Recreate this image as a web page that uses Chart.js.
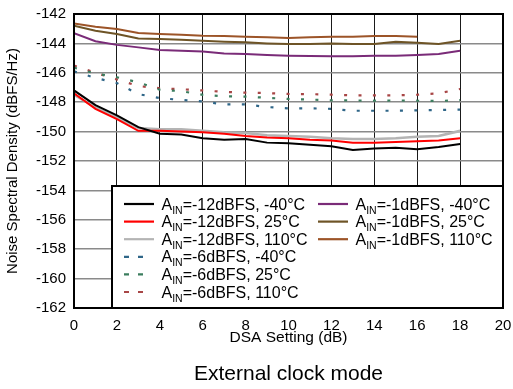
<!DOCTYPE html>
<html>
<head>
<meta charset="utf-8">
<script src="https://cdn.jsdelivr.net/npm/chart.js@4.4.1/dist/chart.umd.min.js"></script>
<style>
    html, body { margin: 0; padding: 0; background: #fff; }
</style>
</head>
<body>
<canvas id="nsdChart" width="513" height="389"></canvas>
<script>
// DSA setting (dB)
const dsa = [0, 1, 2, 3, 4, 5, 6, 7, 8, 9, 10, 11, 12, 13, 14, 15, 16, 17, 18];
const dsaShort = [0, 1, 2, 3, 4, 5, 6, 7, 8, 9, 10, 11, 12, 13, 14, 15, 16];

const xTicks = [0, 2, 4, 6, 8, 10, 12, 14, 16, 18, 20];
const yTicks = [-142, -144, -146, -148, -150, -152, -154, -156, -158, -160, -162];

// AIN = -12 dBFS
const m12_n40 = [-147.2, -148.2, -148.9, -149.7, -150.15, -150.2, -150.45, -150.55, -150.5, -150.75, -150.8, -150.9, -151.0, -151.25, -151.15, -151.1, -151.2, -151.05, -150.85];
const m12_25  = [-147.4, -148.45, -149.15, -149.95, -149.95, -150.0, -150.05, -150.15, -150.3, -150.4, -150.45, -150.55, -150.6, -150.75, -150.75, -150.7, -150.65, -150.6, -150.45];
const m12_110 = [-147.5, -148.35, -149.05, -149.75, -149.85, -149.85, -149.95, -150.05, -150.1, -150.25, -150.3, -150.35, -150.45, -150.5, -150.5, -150.45, -150.35, -150.3, -149.95];

// AIN = -6 dBFS
const m6_n40 = [-145.9, -146.35, -146.7, -147.45, -147.72, -147.85, -147.95, -148.15, -148.15, -148.33, -148.42, -148.42, -148.45, -148.58, -148.58, -148.58, -148.56, -148.53, -148.5];
const m6_25  = [-145.65, -146.05, -146.3, -146.65, -147.15, -147.25, -147.5, -147.6, -147.62, -147.7, -147.78, -147.82, -147.87, -147.88, -147.9, -147.88, -147.9, -147.92, -147.86];
const m6_110 = [-145.5, -146.0, -146.45, -146.9, -147.05, -147.12, -147.2, -147.3, -147.35, -147.38, -147.44, -147.45, -147.49, -147.53, -147.53, -147.53, -147.49, -147.4, -147.1];

// AIN = -1 dBFS
const m1_n40 = [-143.3, -143.85, -144.1, -144.27, -144.45, -144.5, -144.55, -144.68, -144.72, -144.79, -144.84, -144.86, -144.88, -144.88, -144.84, -144.84, -144.79, -144.72, -144.5];
const m1_25  = [-142.8, -143.14, -143.36, -143.66, -143.7, -143.75, -143.82, -143.88, -143.93, -144.0, -144.04, -144.04, -144.0, -144.04, -144.04, -143.88, -143.95, -144.04, -143.82];
const m1_110 = [-142.64, -142.86, -143.02, -143.29, -143.36, -143.41, -143.48, -143.5, -143.54, -143.59, -143.63, -143.59, -143.54, -143.54, -143.5, -143.5, -143.54];

const FONT = "'Liberation Sans', Arial, sans-serif";

function pts(xs, ys) {
    return ys.map((y, i) => ({ x: xs[i], y }));
}

function solid(label, data, color, width) {
    return { label, data: pts(dsa, data), borderColor: color, borderWidth: width || 2, pointRadius: 0, tension: 0, fill: false };
}

function dashed(label, data, color) {
    return { label, data: pts(dsa, data), borderColor: color, borderWidth: 2.2, borderDash: [3, 11.4], pointRadius: 0, tension: 0, fill: false };
}

const datasets = [
    solid('AIN=-12dBFS, -40°C', m12_n40, '#000000'),
    solid('AIN=-12dBFS, 25°C', m12_25, '#ff0000'),
    solid('AIN=-12dBFS, 110°C', m12_110, '#b4b4b4', 2.6),
    dashed('AIN=-6dBFS, -40°C', m6_n40, '#2f6688'),
    dashed('AIN=-6dBFS, 25°C', m6_25, '#3b7d5e'),
    dashed('AIN=-6dBFS, 110°C', m6_110, '#a84646'),
    solid('AIN=-1dBFS, -40°C', m1_n40, '#7a2b78'),
    solid('AIN=-1dBFS, 25°C', m1_25, '#6e5426'),
    { label: 'AIN=-1dBFS, 110°C', data: pts(dsaShort, m1_110), borderColor: '#9c5428', borderWidth: 2, pointRadius: 0, tension: 0, fill: false }
];

// legend box drawn inside the plot + the heavy frame round the plot
const frameAndLegend = {
    id: 'frameAndLegend',
    afterDatasetsDraw(chart) {
        const { ctx, chartArea: a } = chart;
        const x0 = a.left + 38, y0 = a.top + 172, x1 = a.right, y1 = a.bottom;
        ctx.save();
        ctx.fillStyle = '#fff';
        ctx.fillRect(x0, y0, x1 - x0, y1 - y0);

        chart.data.datasets.forEach((ds, i) => {
            const col = i < 6 ? 0 : 1;
            const row = col ? i - 6 : i;
            const lx = x0 + (col ? 206 : 12);
            const ly = y0 + 18 + row * 17.6;

            ctx.strokeStyle = ds.borderColor;
            ctx.lineWidth = 2.2;
            if (ds.borderDash) {
                ctx.setLineDash([5, 9]);
                ctx.beginPath();
                ctx.moveTo(lx, ly); ctx.lineTo(lx + 19, ly);
                ctx.stroke();
                ctx.setLineDash([]);
            } else {
                ctx.beginPath();
                ctx.moveTo(lx, ly); ctx.lineTo(lx + 30, ly);
                ctx.stroke();
            }

            // "A" + subscript "IN" + rest of label
            let tx = lx + 37.5;
            const base = ly + 5.5;
            ctx.fillStyle = '#000';
            ctx.textBaseline = 'alphabetic';
            ctx.textAlign = 'left';
            ctx.font = '16px ' + FONT;
            ctx.fillText('A', tx, base);
            tx += ctx.measureText('A').width;
            ctx.font = '10.5px ' + FONT;
            ctx.fillText('IN', tx, base + 4);
            tx += ctx.measureText('IN').width;
            ctx.font = '16px ' + FONT;
            ctx.fillText(ds.label.slice(3), tx, base);
        });

        ctx.strokeStyle = '#000';
        ctx.lineWidth = 2;
        ctx.strokeRect(x0, y0, x1 - x0, y1 - y0);
        ctx.strokeRect(a.left, a.top, a.right - a.left, a.bottom - a.top);
        ctx.restore();
    },
    afterDraw(chart) {
        const { ctx } = chart;
        ctx.save();
        ctx.fillStyle = '#000';
        ctx.font = '21px ' + FONT;
        ctx.textAlign = 'center';
        ctx.textBaseline = 'middle';
        ctx.fillText('External clock mode', (chart.chartArea.left + chart.chartArea.right) / 2, 374);
        ctx.restore();
    }
};

new Chart(document.getElementById('nsdChart'), {
    type: 'line',
    data: { datasets },
    options: {
        responsive: false,
        animation: false,
        layout: { padding: { top: 14, right: 10, left: 0, bottom: 0 } },
        plugins: { legend: { display: false }, tooltip: { enabled: false } },
        scales: {
            x: {
                type: 'linear',
                min: 0, max: 20,
                afterFit: s => { s.height = 81; s.paddingLeft = 0; s.paddingRight = 0; },
                afterBuildTicks: s => { s.ticks = xTicks.map(v => ({ value: v })); },
                grid: { color: '#1a1a1a', lineWidth: 1, drawTicks: false },
                border: { display: false },
                ticks: { color: '#000', font: { family: FONT, size: 15 }, padding: 9, maxRotation: 0 },
                title: { display: true, text: 'DSA Setting (dB)', color: '#000', font: { family: FONT, size: 15.5 }, padding: { top: 0, bottom: 42 } }
            },
            y: {
                min: -162, max: -142,
                afterFit: s => { s.width = 74; s.paddingTop = 0; s.paddingBottom = 0; },
                afterBuildTicks: s => { s.ticks = yTicks.map(v => ({ value: v })); },
                grid: { color: '#8a8a8a', lineWidth: 1.5, drawTicks: false },
                border: { display: false },
                ticks: { color: '#000', font: { family: FONT, size: 15 }, padding: 8 },
                title: { display: true, text: 'Noise Spectral Density (dBFS/Hz)', color: '#000', font: { family: FONT, size: 15 }, padding: { top: 4, bottom: 4 } }
            }
        }
    },
    plugins: [frameAndLegend]
});
</script>
</body>
</html>
